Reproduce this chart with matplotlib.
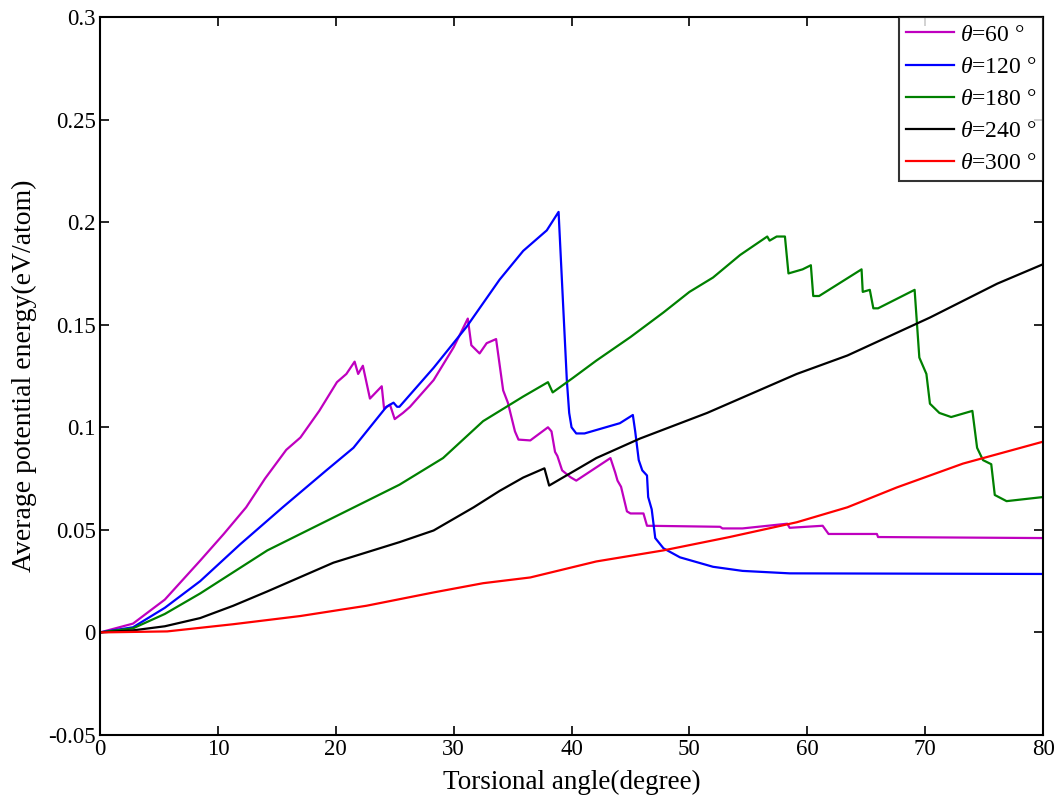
import numpy as np
import matplotlib
matplotlib.use("Agg")
from matplotlib import pyplot as plt

x60 = [0, 2.8, 5.5, 8.5, 10.5, 12.4, 14.0, 15.8, 17.0, 18.6, 20.1, 20.9, 21.6, 21.9,
       22.3, 22.6, 22.9, 23.9, 24.1, 24.6, 25.0, 25.7, 26.3, 28.3, 30.0, 31.2, 31.5,
       32.2, 32.8, 33.6, 34.2, 34.6, 35.2, 35.5, 36.5, 38.0, 38.3, 38.6, 38.8, 39.2,
       39.9, 40.4, 43.3, 43.7, 43.9, 44.2, 44.7, 45.0, 46.1, 46.4, 52.6, 52.8, 54.5,
       58.3, 58.5, 61.3, 61.8, 65.9, 66.0, 80.0]
y60 = [0, 0.0043, 0.016, 0.035, 0.048, 0.061, 0.075, 0.089, 0.095, 0.108, 0.122, 0.126,
       0.132, 0.126, 0.130, 0.122, 0.114, 0.120, 0.109, 0.111, 0.104, 0.107, 0.110,
       0.123, 0.139, 0.153, 0.140, 0.136, 0.141, 0.143, 0.118, 0.112, 0.098, 0.094,
       0.0936, 0.100, 0.098, 0.088, 0.086, 0.079, 0.0757, 0.074, 0.085, 0.078, 0.074,
       0.071, 0.059, 0.058, 0.058, 0.052, 0.0515, 0.0507, 0.0507, 0.053, 0.051, 0.052,
       0.048, 0.048, 0.0465, 0.046]

x120 = [0, 2.8, 5.5, 8.5, 11.9, 15.5, 19.2, 21.5, 22.9, 24.3, 24.9, 25.2, 25.4, 28.3,
        31.1, 33.9, 35.9, 37.9, 38.9, 39.3, 39.6, 39.8, 40.0, 40.4, 41.1, 44.1, 45.2,
        45.4, 45.7, 46.0, 46.4, 46.5, 46.8, 47.1, 47.8, 49.2, 52.0, 54.5, 58.5, 80.0]
y120 = [0, 0.0025, 0.012, 0.025, 0.043, 0.061, 0.079, 0.090, 0.100, 0.110, 0.112,
        0.110, 0.110, 0.129, 0.149, 0.172, 0.186, 0.196, 0.205, 0.158, 0.123, 0.107,
        0.100, 0.097, 0.097, 0.102, 0.106, 0.098, 0.084, 0.079, 0.0765, 0.066, 0.060,
        0.046, 0.041, 0.0366, 0.032, 0.030, 0.0288, 0.0285]

x180 = [0, 2.8, 5.5, 8.5, 14.2, 19.8, 25.4, 29.1, 32.5, 35.9, 38.0, 38.4, 40.1, 42.1,
        45.0, 47.8, 50.0, 52.0, 54.3, 56.6, 56.8, 57.4, 58.1, 58.4, 59.6, 60.3, 60.5,
        61.0, 64.6, 64.7, 65.3, 65.6, 66.0, 69.1, 69.5, 70.1, 70.4, 71.2, 72.2, 74.0,
        74.4, 74.9, 75.6, 75.9, 76.9, 80.0]
y180 = [0, 0.002, 0.009, 0.019, 0.040, 0.056, 0.072, 0.085, 0.103, 0.115, 0.122, 0.117,
        0.124, 0.1325, 0.144, 0.156, 0.166, 0.173, 0.184, 0.193, 0.191, 0.193, 0.193,
        0.175, 0.177, 0.179, 0.164, 0.164, 0.177, 0.166, 0.167, 0.158, 0.158, 0.167,
        0.134, 0.126, 0.1115, 0.107, 0.105, 0.108, 0.090, 0.084, 0.082, 0.067, 0.064,
        0.066]

x240 = [0, 2.8, 5.5, 8.5, 11.3, 14.2, 17.0, 19.8, 22.6, 25.4, 28.3, 31.7, 33.9, 35.9,
        37.7, 38.1, 42.1, 45.8, 51.5, 59.1, 63.4, 70.4, 76.1, 80.0]
y240 = [0, 0.001, 0.003, 0.007, 0.013, 0.020, 0.027, 0.034, 0.039, 0.044, 0.0497,
        0.061, 0.069, 0.0755, 0.080, 0.0716, 0.085, 0.0945, 0.107, 0.126, 0.135,
        0.1535, 0.170, 0.1795]

x300 = [0, 5.7, 11.3, 17.0, 22.6, 28.3, 32.5, 36.5, 42.1, 47.8, 53.4, 59.1, 63.4,
        67.6, 73.2, 80.0]
y300 = [0, 0.0005, 0.004, 0.008, 0.013, 0.0195, 0.024, 0.0268, 0.0346, 0.040, 0.0465,
        0.0537, 0.061, 0.0707, 0.0823, 0.093]

labels = [u'60', u'120', u'180', u'240', u'300']
colors = ['#bf00bf', '#0000ff', '#008000', '#000000', '#ff0000']

plt.rcParams['font.family'] = ['Liberation Serif', 'DejaVu Serif']
plt.rcParams['mathtext.fontset'] = 'custom'
plt.rcParams['mathtext.it'] = 'Liberation Serif:italic'
plt.rcParams['mathtext.rm'] = 'Liberation Serif'

fig = plt.figure(figsize=(10.59, 7.99), dpi=100)
ax = fig.add_axes([0.0944, 0.0801, 0.8906, 0.8986])

series = [(x60, y60), (x120, y120), (x180, y180), (x240, y240), (x300, y300)]
for (xs, ys), lab, col in zip(series, labels, colors):
    ax.plot(xs, ys, color=col, linewidth=1.6,
            label=r'$\theta$=' + lab + u' \u00b0')

ax.set_xlim(0, 80)
ax.set_ylim(-0.05, 0.3)
ax.set_xticks(np.arange(0, 81, 10))
ax.set_yticks(np.arange(-0.05, 0.301, 0.05))
ax.set_yticklabels(['-0.05', '0', '0.05', '0.1', '0.15', '0.2', '0.25', '0.3'])
ax.tick_params(direction='in', top=True, right=True, length=6.5, width=1.2,
               labelsize=16.5, pad=3)
for sp in ax.spines.values():
    sp.set_linewidth(1.5)
ax.set_xlabel('Torsional angle(degree)', fontsize=19.5, labelpad=7)
ax.set_ylabel('Average potential energy(eV/atom)', fontsize=20, labelpad=8)

leg = ax.legend(loc='upper right', fontsize=17, frameon=True, fancybox=False,
                edgecolor='black', borderaxespad=0, handlelength=2.0,
                handletextpad=0.25, labelspacing=0.45, borderpad=0.3)
leg.get_frame().set_linewidth(1.5)

fig.savefig('out.png', dpi=100)
